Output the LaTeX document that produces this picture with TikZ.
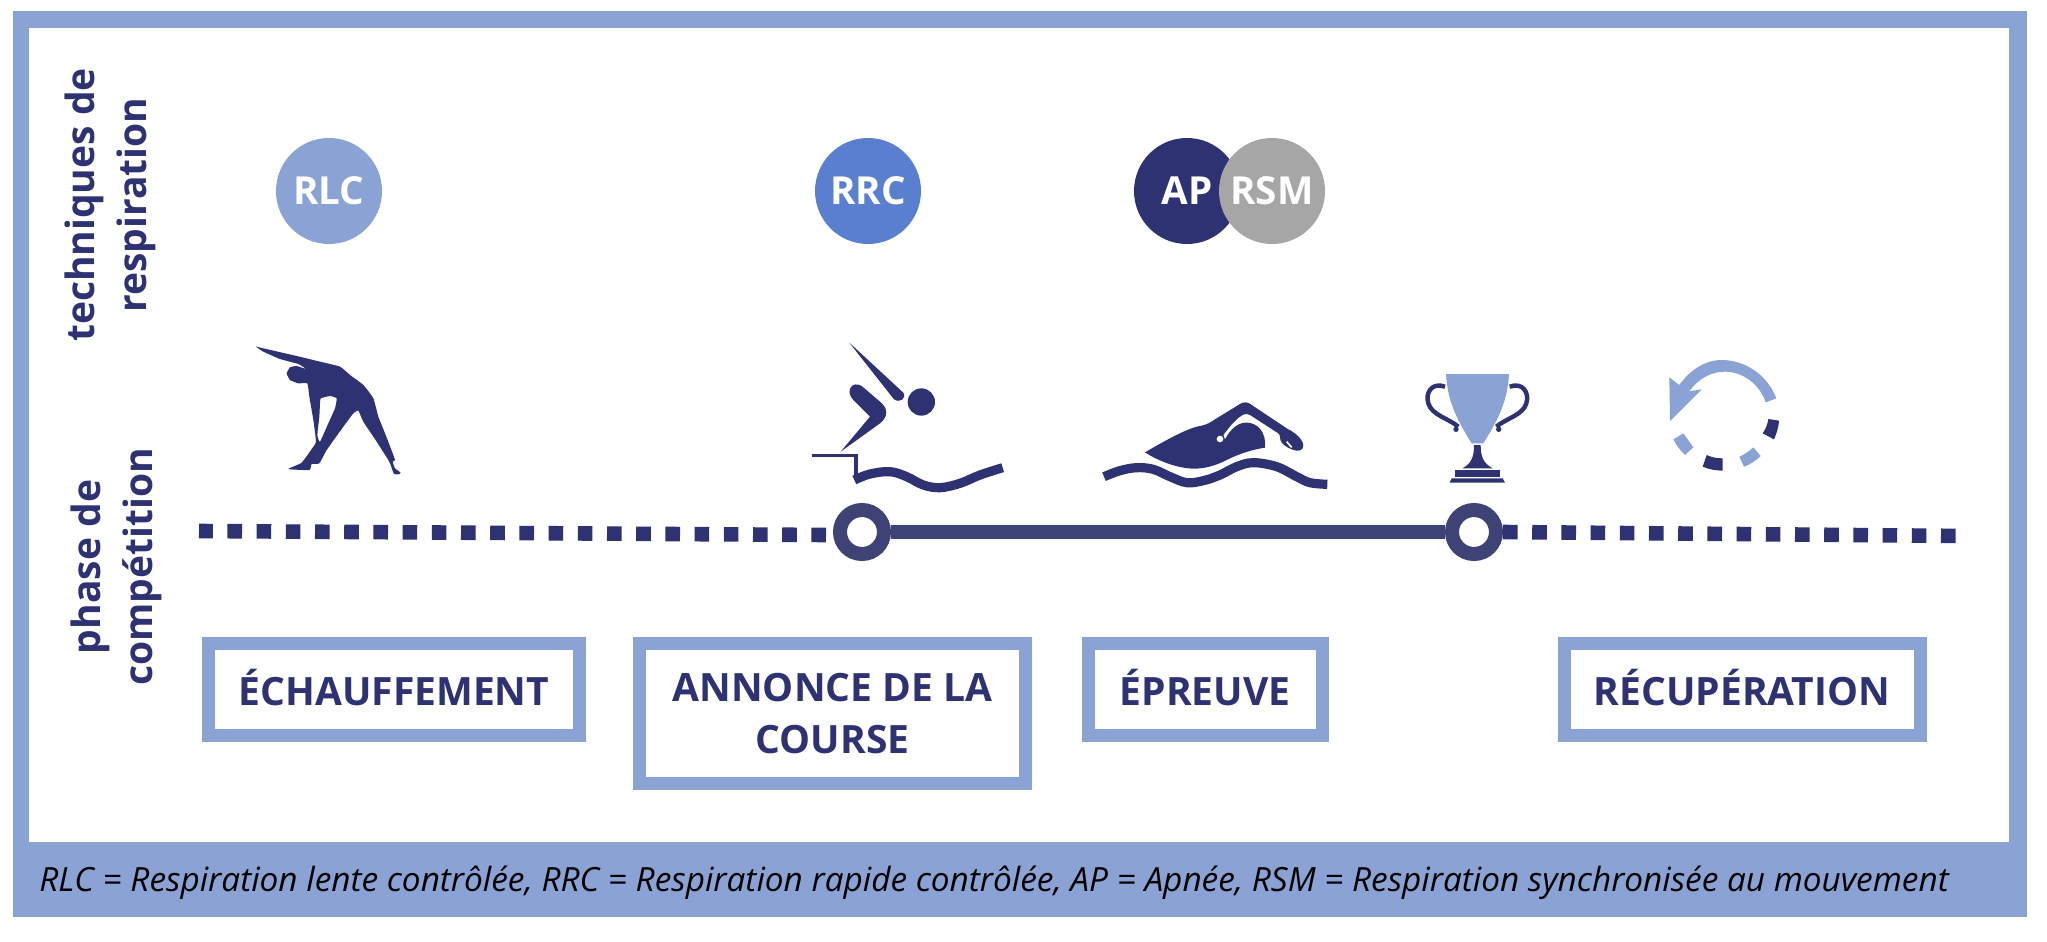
\documentclass[tikz,border=0pt]{standalone}
\usepackage{fontspec}
\setmainfont{Open Sans}
\definecolor{navy}{HTML}{2E3272}
\definecolor{ringc}{HTML}{3F4274}
\definecolor{soft}{HTML}{8AA2D4}
\definecolor{midb}{HTML}{5A7FCF}
\definecolor{greyc}{HTML}{A6A6A6}
\tikzset{
  techdot/.style={circle,inner sep=0pt,minimum size=53pt,text=white,font=\fontsize{19.3}{20}\selectfont\bfseries},
  phasebox/.style={draw=soft,line width=6.5pt,fill=white,inner sep=0pt,align=center,text=navy,font=\fontsize{19.5}{25.7}\selectfont\bfseries},
  sidelabel/.style={rotate=90,align=center,inner sep=0pt,text=navy,font=\fontsize{19.5}{26}\selectfont\bfseries},
  ringnode/.style={circle,draw=ringc,fill=white,line width=7pt,minimum size=22pt,inner sep=0pt},
  dotline/.style={draw=navy,line width=7.3pt,dash pattern=on 7.3pt off 7.3pt},
  icon/.style={x=0.16667pt,y=-0.16667pt},
}
\begin{document}
\begin{tikzpicture}[x=0.5pt,y=-0.5pt]
\useasboundingbox (0,0) rectangle (2047,942);
\fill[white] (0,0) rectangle (2047,942);
% frame
\fill[soft] (13,11) rectangle (2027,917);
\fill[white] (29,28) rectangle (2009,842);
\node[anchor=west,inner sep=0pt,text=black,font=\fontsize{16.68}{20}\selectfont\itshape] (legend) at (39,883) {RLC = Respiration lente contrôlée, RRC = Respiration rapide contrôlée, AP = Apnée, RSM = Respiration synchronisée au mouvement};
% side labels
\node[sidelabel] (techlabel) at (110,205) {techniques de\\respiration};
\node[sidelabel] (phaselabel) at (116,567) {phase de\\compétition};
% technique circles
\node[techdot,fill=soft] (rlc) at (329,191) {RLC};
\node[techdot,fill=midb] (rrc) at (868,191) {RRC};
\node[techdot,fill=navy] (ap) at (1187,191) {AP};
\node[techdot,fill=greyc] (rsm) at (1272,191) {RSM};
% timeline
\coordinate (ls) at (199,531);
\coordinate (re) at (1966,536);
\node[ringnode] (start) at (862,532) {};
\node[ringnode] (stop) at (1474,532) {};
\coordinate (le) at (826,535);
\coordinate (rs) at (1503,532);
\path[dotline] (le) -- (ls);
\path[dotline] (rs) -- (re);
\draw[ringc,line width=7.3pt] (start) -- (stop);
% boxes
\node[phasebox,minimum width=185.5pt,minimum height=46pt] (b1) at (394,689.5) {\raisebox{2pt}{ÉCHAUFFEMENT}};
\node[phasebox,minimum width=193pt,minimum height=70pt] (b2) at (832.5,713.5) {\raisebox{-1.4pt}{ANNONCE DE LA}\\\raisebox{-1.4pt}{COURSE}};
\node[phasebox,minimum width=117pt,minimum height=46pt] (b3) at (1205,689.5) {\raisebox{2pt}{ÉPREUVE}};
\node[phasebox,minimum width=178pt,minimum height=46pt] (b4) at (1742,689.5) {\raisebox{2pt}{RÉCUPÉRATION}};
% stretching figure
\begin{scope}[shift={(230,320)},icon]
\fill[navy,even odd rule] plot[smooth cycle,tension=0.25] coordinates {(78,80)(100,85)(200,108)(270,125)(330,140)(360,165)(400,195)(430,235)(445,290)(465,340)(490,405)(495,420)(488,425)(495,445)(512,458)(505,463)(492,462)(482,435)(475,420)(440,365)(400,305)(385,272)(370,280)(340,320)(290,390)(268,430)(245,432)(238,450)(175,447)(215,428)(250,380)(258,365)(250,300)(238,230)(232,190)(205,190)(180,180)(170,160)(180,142)(200,138)(228,147)(205,132)(150,117)(100,95)}
 plot[smooth cycle,tension=0.25] coordinates {(272,235)(300,228)(320,235)(315,265)(295,310)(270,365)(262,345)(268,290)(270,250)};
\end{scope}
% diver
\begin{scope}[shift={(790,320)},icon]
\fill[navy] (178,68) -- (340,218) .. controls (350,235) and (330,250) .. (312,238) -- cycle;
\fill[navy] (394,246) circle[radius=41];
\fill[navy] (152,395) -- (240,290) -- (190,240) .. controls (165,215) and (185,180) .. (215,198) -- (270,245) .. controls (295,265) and (295,290) .. (270,310) -- cycle;
\draw[navy,line width=1.8pt] (67,407) -- (198,407) -- (198,470);
\draw[navy,line width=4.6pt] plot[smooth,tension=0.6] coordinates {(193,480)(240,462)(300,455)(350,470)(400,495)(450,503)(510,490)(570,465)(638,443)};
\end{scope}
% swimmer
\begin{scope}[shift={(1090,350)},icon]
\fill[navy] (165,307) .. controls (220,275) and (290,235) .. (330,228) .. controls (350,225) and (365,215) .. (375,208) -- (450,162) .. controls (460,155) and (475,155) .. (485,165) -- (590,235) .. controls (610,245) and (630,260) .. (637,275) .. controls (645,295) and (635,303) .. (620,302) .. controls (605,300) and (585,290) .. (575,278) .. controls (568,268) and (572,255) .. (565,250) -- (480,195) .. controls (470,190) and (460,192) .. (450,200) .. controls (430,215) and (415,235) .. (400,255) -- (405,268) .. controls (420,240) and (440,220) .. (465,218) .. controls (500,215) and (530,245) .. (525,293) .. controls (490,298) and (450,310) .. (410,330) .. controls (380,345) and (340,360) .. (295,355) .. controls (250,350) and (200,330) .. (165,307) -- cycle;
\fill[white] (390,267) circle[radius=10];
\draw[white,line width=0.8pt] (590,275) -- (605,292);
\draw[navy,line width=4.6pt] plot[smooth,tension=0.6] coordinates {(42,380)(90,362)(140,353)(190,358)(240,380)(290,398)(340,392)(390,375)(440,350)(490,338)(560,350)(620,380)(660,398)(712,403)};
\end{scope}
% trophy and return arrow
\begin{scope}[shift={(1400,350)},icon]
\draw[navy,line width=2.2pt] (135,110) .. controls (95,95) and (75,130) .. (85,160) .. controls (95,195) and (145,205) .. (175,230);
\draw[navy,line width=2.2pt] (329,110) .. controls (369,95) and (389,130) .. (379,160) .. controls (369,195) and (319,205) .. (289,230);
\fill[navy] (168,238) circle[radius=8] (296,238) circle[radius=8];
\fill[soft] (138,72) -- (327,72) .. controls (322,150) and (300,200) .. (250,280) -- (215,280) .. controls (165,200) and (143,150) .. (138,72) -- cycle;
\fill[navy] (222,285) -- (242,285) .. controls (242,320) and (250,340) .. (278,355) -- (187,355) .. controls (215,340) and (222,320) .. (222,285) -- cycle;
\fill[navy] (165,360) rectangle (299,380);
\fill[navy] (155,385) -- (308,385) -- (315,398) -- (149,398) -- cycle;
% arrow
\fill[soft] (1129,145) .. controls (1100,70) and (1030,30) .. (965,30) .. controls (915,30) and (870,60) .. (838,105) -- (808,82) -- (810,213) -- (905,118) -- (868,124) .. controls (895,85) and (935,65) .. (975,65) .. controls (1030,65) and (1080,105) .. (1097,157) -- cycle;
\fill[navy] (1105,207) -- (1137,212) .. controls (1136,230) and (1130,250) .. (1122,268) -- (1088,250) .. controls (1097,237) and (1103,222) .. (1105,207) -- cycle;
\fill[soft] (1060,292) -- (1082,318) .. controls (1067,332) and (1050,344) .. (1032,350) -- (1018,320) .. controls (1033,314) and (1047,304) .. (1060,292) -- cycle;
\fill[navy] (920,315) .. controls (935,322) and (950,325) .. (968,325) -- (968,362) .. controls (948,362) and (928,358) .. (908,350) -- cycle;
\fill[soft] (850,250) -- (880,292) -- (855,315) .. controls (840,300) and (828,285) .. (820,268) -- cycle;
\end{scope}
\end{tikzpicture}
\end{document}
